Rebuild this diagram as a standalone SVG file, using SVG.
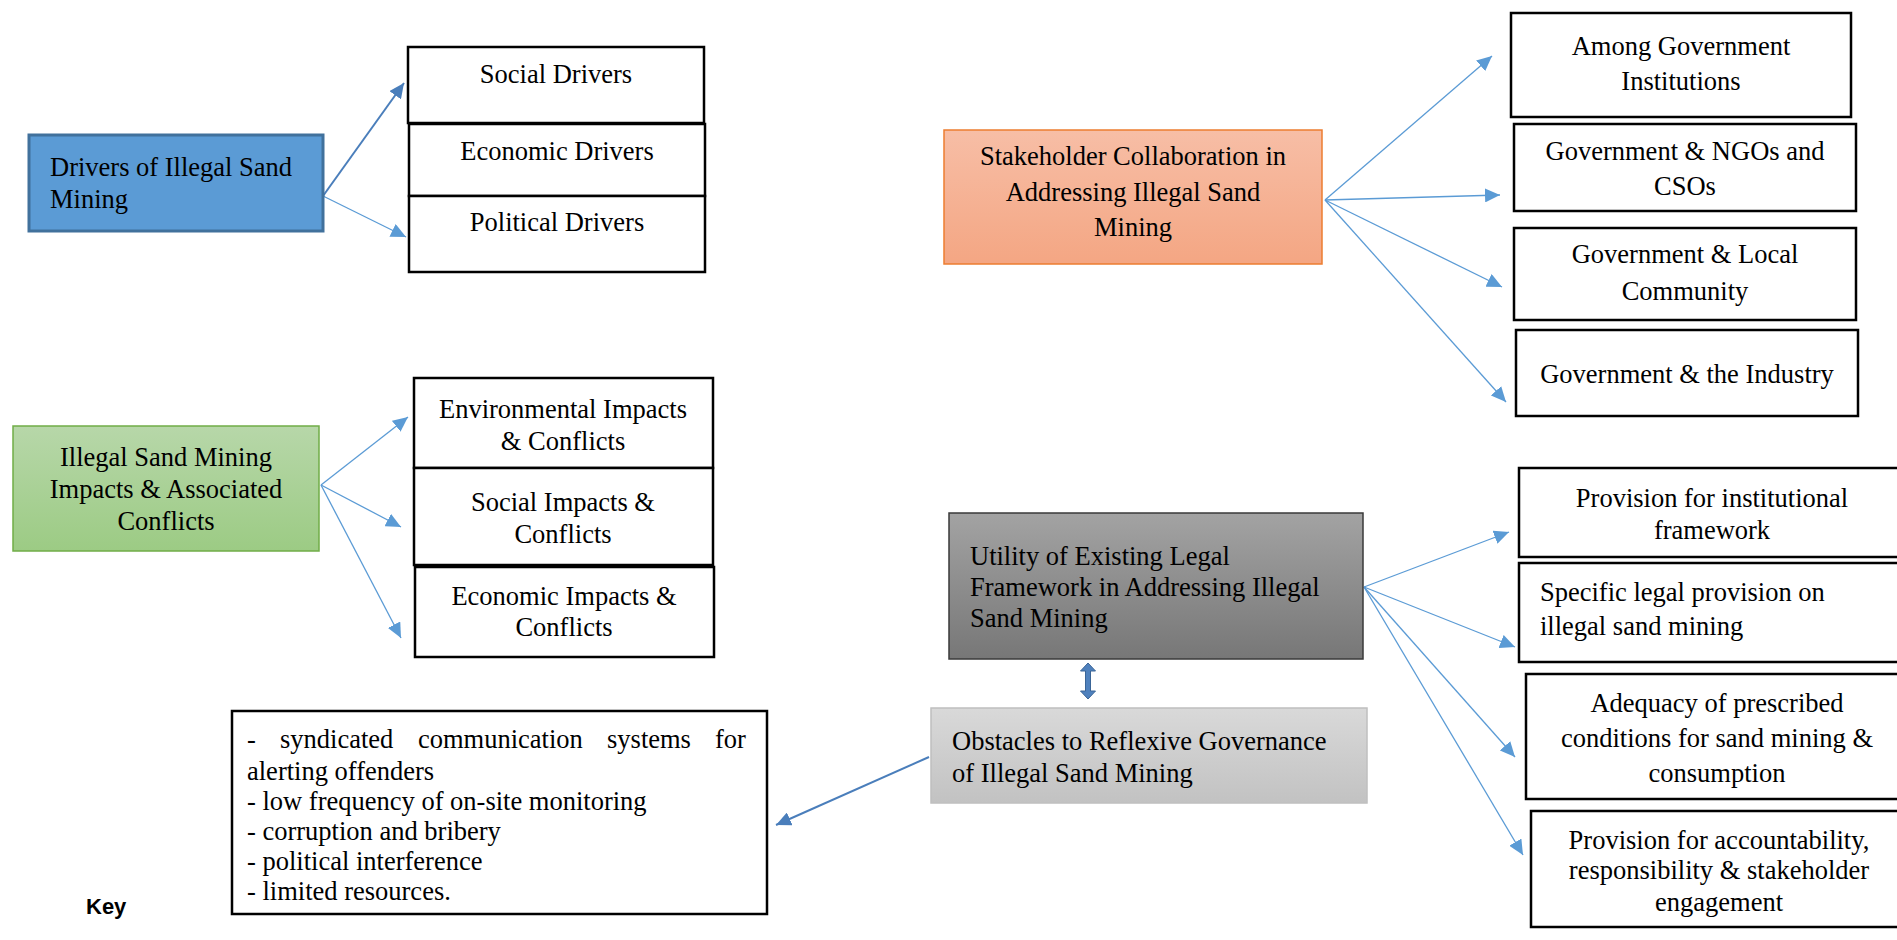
<svg xmlns="http://www.w3.org/2000/svg" width="1897" height="940" viewBox="0 0 1897 940">
<defs>
<style>
.t{font-family:"Liberation Serif","Times New Roman",serif;font-size:26.5px;fill:#000}
.c{text-anchor:middle}
.box{fill:#fff;stroke:#000;stroke-width:2.5}
.ln{fill:none;stroke:#5b9bd5;stroke-width:1.3}
.ld{fill:none;stroke:#4a7ebb;stroke-width:2}
</style>
<marker id="ah" markerUnits="userSpaceOnUse" markerWidth="16" markerHeight="14" refX="15" refY="7" orient="auto"><path d="M0,0 L15,7 L0,14 z" fill="#5b9bd5"/></marker>
<marker id="ahd" markerUnits="userSpaceOnUse" markerWidth="16" markerHeight="14" refX="15" refY="7" orient="auto"><path d="M0,0 L15,7 L0,14 z" fill="#4a7ebb"/></marker>
<linearGradient id="gG" x1="0" y1="0" x2="0" y2="1"><stop offset="0" stop-color="#b7d7a9"/><stop offset="1" stop-color="#9ccb84"/></linearGradient>
<linearGradient id="gO" x1="0" y1="0" x2="0" y2="1"><stop offset="0" stop-color="#f7bea6"/><stop offset="1" stop-color="#f4a683"/></linearGradient>
<linearGradient id="gD" x1="0" y1="0" x2="0" y2="1"><stop offset="0" stop-color="#a3a3a3"/><stop offset="1" stop-color="#777"/></linearGradient>
<linearGradient id="gL" x1="0" y1="0" x2="0" y2="1"><stop offset="0" stop-color="#d9d9d9"/><stop offset="1" stop-color="#c2c2c2"/></linearGradient>
</defs>
<rect width="1897" height="940" fill="#fff"/>

<g id="connectors">
<line class="ld" x1="323" y1="196" x2="404" y2="83" marker-end="url(#ahd)"/>
<line class="ln" x1="323" y1="196" x2="406" y2="237" marker-end="url(#ah)"/>
<line class="ln" x1="321" y1="485" x2="408" y2="417" marker-end="url(#ah)"/>
<line class="ln" x1="321" y1="485" x2="401" y2="527" marker-end="url(#ah)"/>
<line class="ln" x1="321" y1="485" x2="401" y2="638" marker-end="url(#ah)"/>
<line class="ln" x1="1325" y1="200" x2="1492" y2="56" marker-end="url(#ah)"/>
<line class="ln" x1="1325" y1="200" x2="1500" y2="195" marker-end="url(#ah)"/>
<line class="ln" x1="1325" y1="200" x2="1502" y2="287" marker-end="url(#ah)"/>
<line class="ln" x1="1325" y1="200" x2="1506" y2="402" marker-end="url(#ah)"/>
<line class="ln" x1="1364" y1="587" x2="1509" y2="532" marker-end="url(#ah)"/>
<line class="ln" x1="1364" y1="587" x2="1515" y2="647" marker-end="url(#ah)"/>
<line class="ln" x1="1364" y1="587" x2="1515" y2="757" marker-end="url(#ah)"/>
<line class="ln" x1="1364" y1="587" x2="1523" y2="855" marker-end="url(#ah)"/>
<line class="ld" x1="929" y1="757" x2="776" y2="825" marker-end="url(#ahd)"/>
<path d="M1088,663 L1095.5,671 L1090.5,671 L1090.5,691 L1095.5,691 L1088,699 L1080.5,691 L1085.5,691 L1085.5,671 L1080.5,671 Z" fill="#4f81bd" stroke="#3a6597" stroke-width="1"/>
</g>

<g id="drivers">
<rect x="29" y="135" width="294" height="96" fill="#5b9bd5" stroke="#41719c" stroke-width="3"/>
<text class="t" x="50" y="176">Drivers of Illegal Sand</text>
<text class="t" x="50" y="208">Mining</text>
</g>
<g id="social-drivers">
<rect class="box" x="408" y="47" width="296" height="76"/>
<text class="t c" x="556" y="83">Social Drivers</text>
</g>
<g id="economic-drivers">
<rect class="box" x="409" y="124" width="296" height="72"/>
<text class="t c" x="557" y="160">Economic Drivers</text>
</g>
<g id="political-drivers">
<rect class="box" x="409" y="196" width="296" height="76"/>
<text class="t c" x="557" y="231">Political Drivers</text>
</g>

<g id="impacts">
<rect x="13" y="426" width="306" height="125" fill="url(#gG)" stroke="#70ad47" stroke-width="1.5"/>
<text class="t c" x="166" y="466">Illegal Sand Mining</text>
<text class="t c" x="166" y="498">Impacts &amp; Associated</text>
<text class="t c" x="166" y="530">Conflicts</text>
</g>
<g id="env-impacts">
<rect class="box" x="414" y="378" width="299" height="90"/>
<text class="t c" x="563" y="418">Environmental Impacts</text>
<text class="t c" x="563" y="450">&amp; Conflicts</text>
</g>
<g id="social-impacts">
<rect class="box" x="414" y="468" width="299" height="97"/>
<text class="t c" x="563" y="511">Social Impacts &amp;</text>
<text class="t c" x="563" y="543">Conflicts</text>
</g>
<g id="economic-impacts">
<rect class="box" x="415" y="567" width="299" height="90"/>
<text class="t c" x="564" y="605">Economic Impacts &amp;</text>
<text class="t c" x="564" y="636">Conflicts</text>
</g>

<g id="stakeholder">
<rect x="944" y="130" width="378" height="134" fill="url(#gO)" stroke="#ed7d31" stroke-width="1.5"/>
<text class="t c" x="1133" y="165">Stakeholder Collaboration in</text>
<text class="t c" x="1133" y="201">Addressing Illegal Sand</text>
<text class="t c" x="1133" y="236">Mining</text>
</g>
<g id="among-gov">
<rect class="box" x="1511" y="13" width="340" height="104"/>
<text class="t c" x="1681" y="55">Among Government</text>
<text class="t c" x="1681" y="90">Institutions</text>
</g>
<g id="gov-ngos">
<rect class="box" x="1514" y="124" width="342" height="87"/>
<text class="t c" x="1685" y="160">Government &amp; NGOs and</text>
<text class="t c" x="1685" y="195">CSOs</text>
</g>
<g id="gov-local">
<rect class="box" x="1514" y="228" width="342" height="92"/>
<text class="t c" x="1685" y="263">Government &amp; Local</text>
<text class="t c" x="1685" y="300">Community</text>
</g>
<g id="gov-industry">
<rect class="box" x="1516" y="330" width="342" height="86"/>
<text class="t c" x="1687" y="383">Government &amp; the Industry</text>
</g>

<g id="utility">
<rect x="949" y="513" width="414" height="146" fill="url(#gD)" stroke="#3a3a3a" stroke-width="1.5"/>
<text class="t" x="970" y="565">Utility of Existing Legal</text>
<text class="t" x="970" y="596">Framework in Addressing Illegal</text>
<text class="t" x="970" y="627">Sand Mining</text>
</g>
<g id="obstacles">
<rect x="931" y="708" width="436" height="95" fill="url(#gL)" stroke="#bfbfbf" stroke-width="1.5"/>
<text class="t" x="952" y="750">Obstacles to Reflexive Governance</text>
<text class="t" x="952" y="782">of Illegal Sand Mining</text>
</g>
<g id="obstacle-list">
<rect class="box" x="232" y="711" width="535" height="203"/>
<text class="t" y="748"><tspan x="247">-</tspan><tspan x="280">syndicated</tspan><tspan x="418">communication</tspan><tspan x="607">systems</tspan><tspan x="715">for</tspan></text>
<text class="t" x="247" y="780">alerting offenders</text>
<text class="t" x="247" y="810">- low frequency of on-site monitoring</text>
<text class="t" x="247" y="840">- corruption and bribery</text>
<text class="t" x="247" y="870">- political interference</text>
<text class="t" x="247" y="900">- limited resources.</text>
</g>

<g id="prov-inst">
<rect class="box" x="1519" y="468" width="400" height="89"/>
<text class="t c" x="1712" y="507">Provision for institutional</text>
<text class="t c" x="1712" y="539">framework</text>
</g>
<g id="specific-legal">
<rect class="box" x="1519" y="563" width="400" height="99"/>
<text class="t" x="1540" y="601">Specific legal provision on</text>
<text class="t" x="1540" y="635">illegal sand mining</text>
</g>
<g id="adequacy">
<rect class="box" x="1526" y="674" width="400" height="125"/>
<text class="t c" x="1717" y="712">Adequacy of prescribed</text>
<text class="t c" x="1717" y="747">conditions for sand mining &amp;</text>
<text class="t c" x="1717" y="782">consumption</text>
</g>
<g id="accountability">
<rect class="box" x="1531" y="811" width="400" height="116"/>
<text class="t c" x="1719" y="849">Provision for accountability,</text>
<text class="t c" x="1719" y="879">responsibility &amp; stakeholder</text>
<text class="t c" x="1719" y="911">engagement</text>
</g>

<text id="key" x="86" y="914" font-family="'Liberation Sans',Arial,sans-serif" font-weight="bold" font-size="22">Key</text>
</svg>
